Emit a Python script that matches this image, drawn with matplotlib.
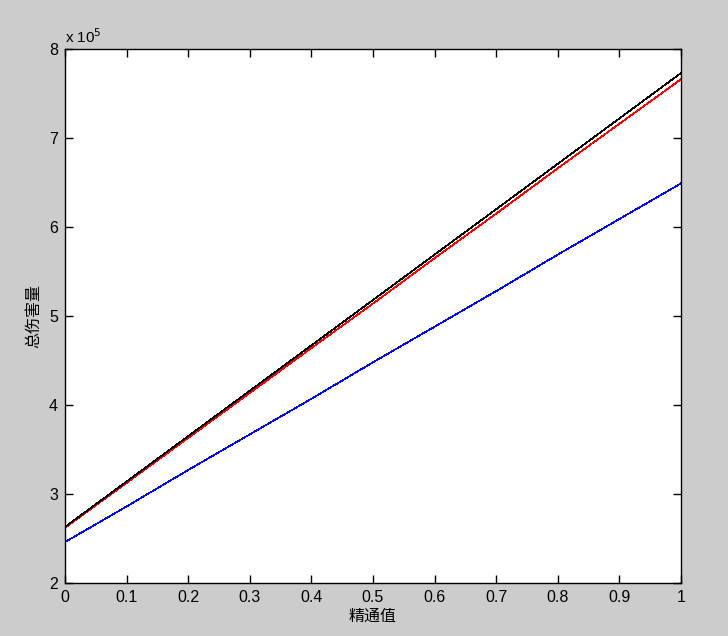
import matplotlib.pyplot as plt
from matplotlib.ticker import FuncFormatter
import numpy as np

plt.rcParams['font.family'] = ['Liberation Sans', 'Noto Sans CJK SC', 'DejaVu Sans']

# mastery value (x) vs total damage
x = [0, 0.1, 0.2, 0.3, 0.4, 0.5, 0.6, 0.7, 0.8, 0.9, 1.0]
black = [2.63e5, 3.14e5, 3.65e5, 4.16e5, 4.67e5, 5.18e5, 5.69e5, 6.20e5, 6.71e5, 7.22e5, 7.73e5]
red = [2.62e5, 3.125e5, 3.63e5, 4.135e5, 4.64e5, 5.14e5, 5.65e5, 6.15e5, 6.66e5, 7.16e5, 7.66e5]
blue = [2.46e5, 2.86e5, 3.27e5, 3.67e5, 4.07e5, 4.48e5, 4.88e5, 5.28e5, 5.69e5, 6.09e5, 6.49e5]

xticks = [0, 0.1, 0.2, 0.3, 0.4, 0.5, 0.6, 0.7, 0.8, 0.9, 1]
yticks = [2e5, 3e5, 4e5, 5e5, 6e5, 7e5, 8e5]

fig = plt.figure(figsize=(7.28, 6.36), dpi=100, facecolor='#cccccc')
ax = fig.add_axes([65/728, 53/636, 616/728, 534/636])
ax.set_facecolor('white')

ax.plot(x, red, c='r', lw=0.5, antialiased=False)
ax.plot(x, black, c='k', lw=0.5, antialiased=False)
ax.plot(x, blue, c='b', lw=0.5, antialiased=False)

ax.set_xlim(0, 1)
ax.set_ylim(2e5, 8e5)
ax.set_xticks(xticks)
ax.set_yticks(yticks)
ax.xaxis.set_major_formatter(FuncFormatter(lambda v, p: '%g' % v))
ax.yaxis.set_major_formatter(FuncFormatter(lambda v, p: '%g' % (v/1e5)))
ax.tick_params(direction='in', top=True, right=True, length=6, width=1,
               labelsize=11.5, pad=5)
for s in ax.spines.values():
    s.set_linewidth(1)

ax.text(0, 1.006, 'x 10$^5$', transform=ax.transAxes, fontsize=11,
        ha='left', va='bottom')

ax.set_xlabel('精通值', fontsize=11.5, labelpad=3)
ax.set_ylabel('总伤害量', fontsize=11.5, labelpad=6)

fig.savefig('out.png', dpi=100, facecolor=fig.get_facecolor())
